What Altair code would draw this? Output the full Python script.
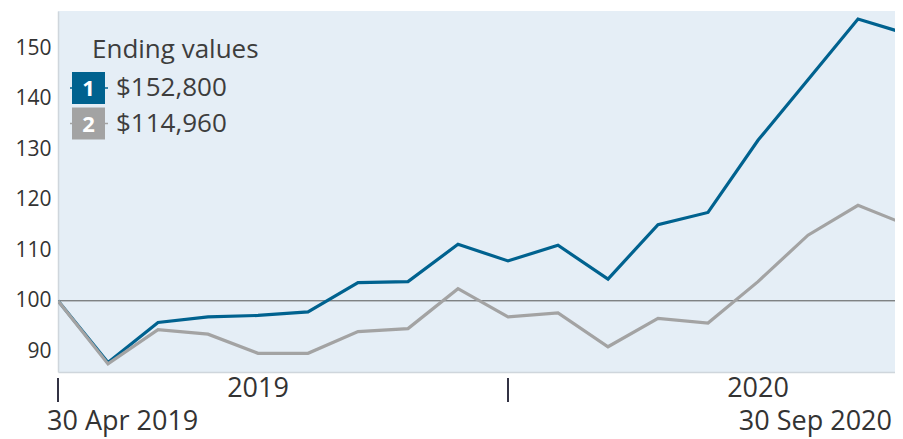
import altair as alt
import pandas as pd

months = ["Apr 2019", "May 2019", "Jun 2019", "Jul 2019", "Aug 2019", "Sep 2019",
          "Oct 2019", "Nov 2019", "Dec 2019", "Jan 2020", "Feb 2020", "Mar 2020",
          "Apr 2020", "May 2020", "Jun 2020", "Jul 2020", "Aug 2020", "Sep 2020"]
series1 = [100, 87.8, 95.7, 96.8, 97.1, 97.8, 103.6, 103.8, 111.2, 107.9, 111.0, 104.3,
           115.1, 117.5, 131.8, 143.8, 155.8, 152.8]
series2 = [100, 87.5, 94.3, 93.4, 89.6, 89.6, 93.9, 94.5, 102.4, 96.8, 97.6, 90.9,
           96.5, 95.6, 103.8, 113.0, 118.9, 114.96]
y_ticks = [90, 100, 110, 120, 130, 140, 150]
year_labels = ["2019", "2020"]
year_label_pos = [4, 14]
divider_pos = [0, 9]
start_label = "30 Apr 2019"
end_label = "30 Sep 2020"
legend_title = "Ending values"
legend_nums = ["1", "2"]
legend_values = ["$152,800", "$114,960"]

BLUE = "#00628f"
GRAY = "#a3a3a3"
FONT = "Open Sans"

idx = list(range(len(months)))
df = pd.DataFrame({
    "i": idx * 2,
    "month": months * 2,
    "value": series1 + series2,
    "series": ["1"] * len(months) + ["2"] * len(months),
})

W, H = 837, 361
# visible window ends just before the last month (as in the cropped original)
xs = alt.Scale(domain=[0, 16.74], nice=False, zero=False)
ys = alt.Scale(domain=[85.9, 157.4], nice=False, zero=False)

base = alt.Chart(df)

lines = base.mark_line(strokeWidth=3.2, strokeJoin="miter", clip=True).encode(
    x=alt.X("i:Q", scale=xs,
            axis=alt.Axis(labels=False, ticks=False, title=None, grid=False,
                          domainColor="#cfd6dc", domainWidth=1.5)),
    y=alt.Y("value:Q", scale=ys,
            axis=alt.Axis(values=y_ticks, ticks=False, grid=False, title=None,
                          labelFontSize=21, labelFont=FONT, labelColor="#333333",
                          labelPadding=7, domainColor="#cfd6dc", domainWidth=1.5)),
    color=alt.Color("series:N", scale=alt.Scale(domain=["2", "1"], range=[GRAY, BLUE]),
                    legend=None),
    order=alt.Order("series:N", sort="descending"),
)

ref_line = alt.Chart(pd.DataFrame({"v": [100]})).mark_rule(color="#555555", strokeWidth=1).encode(
    y=alt.Y("v:Q", scale=ys)
)

div_df = pd.DataFrame({"i": divider_pos})
dividers = alt.Chart(div_df).mark_rule(color="#333344", strokeWidth=2).encode(
    x=alt.X("i:Q", scale=xs),
    y=alt.value(H + 6),
    y2=alt.value(H + 30),
)

TXT = dict(fontSize=27, font=FONT, color="#333333", baseline="middle")

year_df = pd.DataFrame({"i": year_label_pos, "t": year_labels})
years = alt.Chart(year_df).mark_text(align="center", **TXT).encode(
    x=alt.X("i:Q", scale=xs),
    y=alt.value(H + 17),
    text="t:N",
)

start_df = pd.DataFrame({"i": [0], "t": [start_label]})
start_t = alt.Chart(start_df).mark_text(align="left", dx=-11, **TXT).encode(
    x=alt.X("i:Q", scale=xs), y=alt.value(H + 50), text="t:N")

end_df = pd.DataFrame({"i": [len(months) - 1], "t": [end_label]})
end_t = alt.Chart(end_df).mark_text(align="right", dx=-16, **TXT).encode(
    x=alt.X("i:Q", scale=xs), y=alt.value(H + 50), text="t:N")

LEG = dict(fontSize=26, font=FONT, color="#3d3d3d", align="left", baseline="middle")
legend_layers = []
legend_layers.append(
    alt.Chart(pd.DataFrame({"t": [legend_title]})).mark_text(**LEG).encode(
        x=alt.value(34), y=alt.value(39), text="t:N")
)
colors = [BLUE, GRAY]
for k in range(len(legend_nums)):
    cy = 77 + k * 35.5
    ldf = pd.DataFrame({"n": [legend_nums[k]], "v": [legend_values[k]]})
    c = alt.Chart(ldf)
    legend_layers.append(c.mark_rule(color=colors[k], strokeWidth=1.5).encode(
        x=alt.value(12), x2=alt.value(50), y=alt.value(cy)))
    legend_layers.append(c.mark_rect(color=colors[k]).encode(
        x=alt.value(14), x2=alt.value(47), y=alt.value(cy - 16), y2=alt.value(cy + 16)))
    legend_layers.append(c.mark_text(fontSize=22, font=FONT, fontWeight="bold", color="white",
                                     align="center", baseline="middle", dy=1).encode(
        x=alt.value(30.5), y=alt.value(cy), text="n:N"))
    legend_layers.append(c.mark_text(**LEG).encode(
        x=alt.value(58), y=alt.value(cy), text="v:N"))

chart = alt.layer(ref_line, lines, dividers, years, start_t, end_t, *legend_layers).properties(
    width=W, height=H,
    autosize=alt.AutoSizeParams(type="none"),
    padding={"left": 50, "top": 3, "right": 0, "bottom": 65},
).configure_view(fill="#e5eef6", stroke=None)

chart.save("out.html", embed_options={"renderer": "svg", "actions": False})
